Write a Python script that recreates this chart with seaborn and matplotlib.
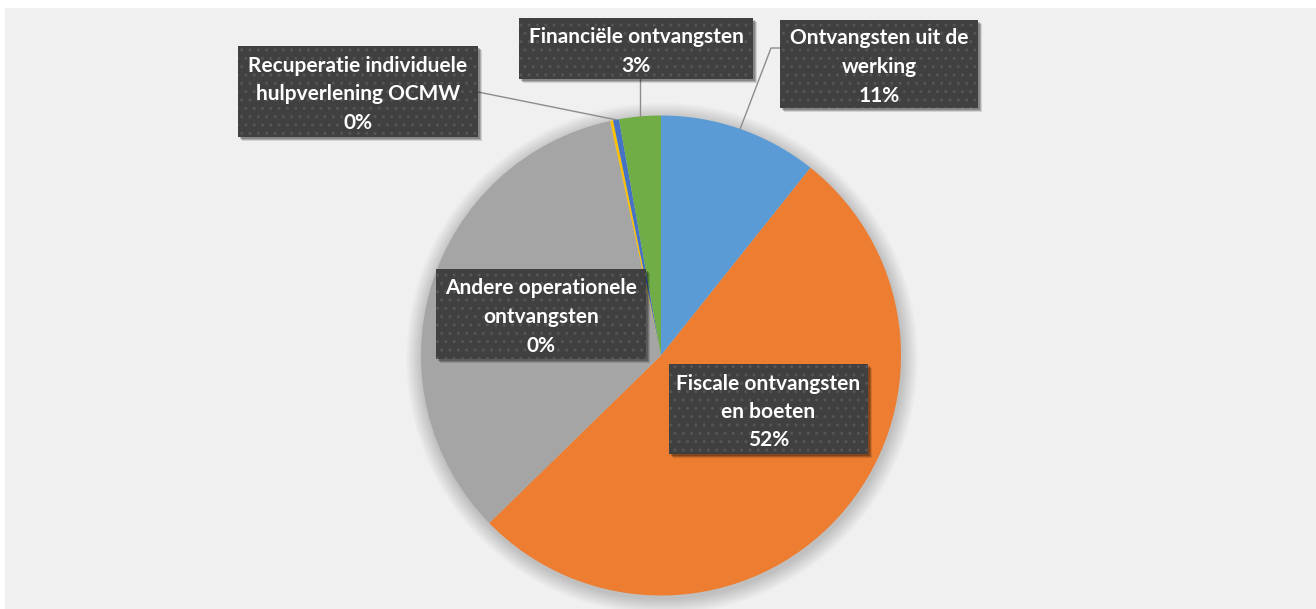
import numpy as np
import seaborn as sns
import matplotlib
matplotlib.use("Agg")
import matplotlib.pyplot as plt
from matplotlib.patches import Rectangle, Circle

# data (share of receipts)
categories = ["Ontvangsten uit de werking", "Fiscale ontvangsten en boeten", "Overige",
              "Andere operationele ontvangsten", "Recuperatie individuele hulpverlening OCMW",
              "Financiële ontvangsten"]
values = [10.7, 52.0, 33.9, 0.2, 0.4, 2.8]
colors = ["#5b9bd5", "#ed7d31", "#a5a5a5", "#ffc000", "#4472c4", "#70ad47"]
# label text as wrapped in the chart (None = no label shown)
label_lines = [["Ontvangsten uit de", "werking"],
               ["Fiscale ontvangsten", "en boeten"],
               None,
               ["Andere operationele", "ontvangsten"],
               ["Recuperatie individuele", "hulpverlening OCMW"],
               ["Financiële ontvangsten"]]

sns.set_theme(style="white")
plt.rcParams["font.family"] = ["Lato", "DejaVu Sans"]
plt.rcParams["hatch.linewidth"] = 1.0

W, H = 1316, 609
fig = plt.figure(figsize=(W / 100, H / 100), dpi=100)
fig.patch.set_facecolor("white")
ax = fig.add_axes([0, 0, 1, 1])

def py(y):
    return H - y

cx, cy, r = 661, py(355.5), 240

# chart area background
ax.add_patch(Rectangle((5, 0), W, H - 8, facecolor="#f0f0f0", edgecolor="none", zorder=0))

# soft shadow round the pie
for k in range(1, 17):
    ax.add_patch(Circle((cx + 1, cy - 3), r + k, facecolor="black", edgecolor="none",
                        alpha=0.010, zorder=0.5))

wedges, _ = ax.pie(values, colors=colors, startangle=90, counterclock=False,
                   center=(cx, cy), radius=r, wedgeprops=dict(linewidth=0))
for w in wedges:
    w.set_zorder(1)

ax.set_xlim(0, W)
ax.set_ylim(0, H)
ax.set_aspect("equal")
ax.axis("off")

total = sum(values)
pct = [f"{round(v / total * 100):.0f}%" for v in values]

def anchor(i):
    t = np.deg2rad((wedges[i].theta1 + wedges[i].theta2) / 2)
    return cx + r * np.cos(t), cy + r * np.sin(t)

# label boxes: left, top, right, bottom in pixels (from top)
boxes = {0: (780, 20, 978, 108),
         1: (669, 364, 868, 454),
         3: (436, 269, 646, 359),
         4: (238, 46, 478, 137),
         5: (519, 18, 753, 79)}

pitch = 28.5
for i, b in boxes.items():
    x0, y0, x1, y1 = b
    for s, a in [(4, 0.12), (3, 0.18), (2, 0.22)]:
        ax.add_patch(Rectangle((x0 + s, py(y1) - s), x1 - x0, y1 - y0, facecolor="black",
                               edgecolor="none", alpha=a, zorder=4))
    ax.add_patch(Rectangle((x0, py(y1)), x1 - x0, y1 - y0, facecolor="#404040",
                           edgecolor="#555555", hatch="..", linewidth=0, zorder=5))
    lines = label_lines[i] + [pct[i]]
    mx = (x0 + x1) / 2
    my = (y0 + y1) / 2 + 1
    n = len(lines)
    for j, t in enumerate(lines):
        ly = my + (j - (n - 1) / 2) * pitch
        ax.text(mx, py(ly), t, ha="center", va="center_baseline", color="white",
                fontsize=15, fontweight="bold", zorder=6)

# leader lines
lc = "#8c8c8c"
axx, ayy = anchor(0)
ax.plot([axx, 771, 780], [ayy, py(48), py(48)], color=lc, lw=1, zorder=3)
axx, ayy = anchor(5)
ax.plot([axx, axx], [ayy, py(79)], color=lc, lw=1, zorder=3)
axx, ayy = anchor(4)
ax.plot([axx, 478], [ayy, py(92)], color=lc, lw=1, zorder=3)

fig.savefig("out.png", dpi=100)
